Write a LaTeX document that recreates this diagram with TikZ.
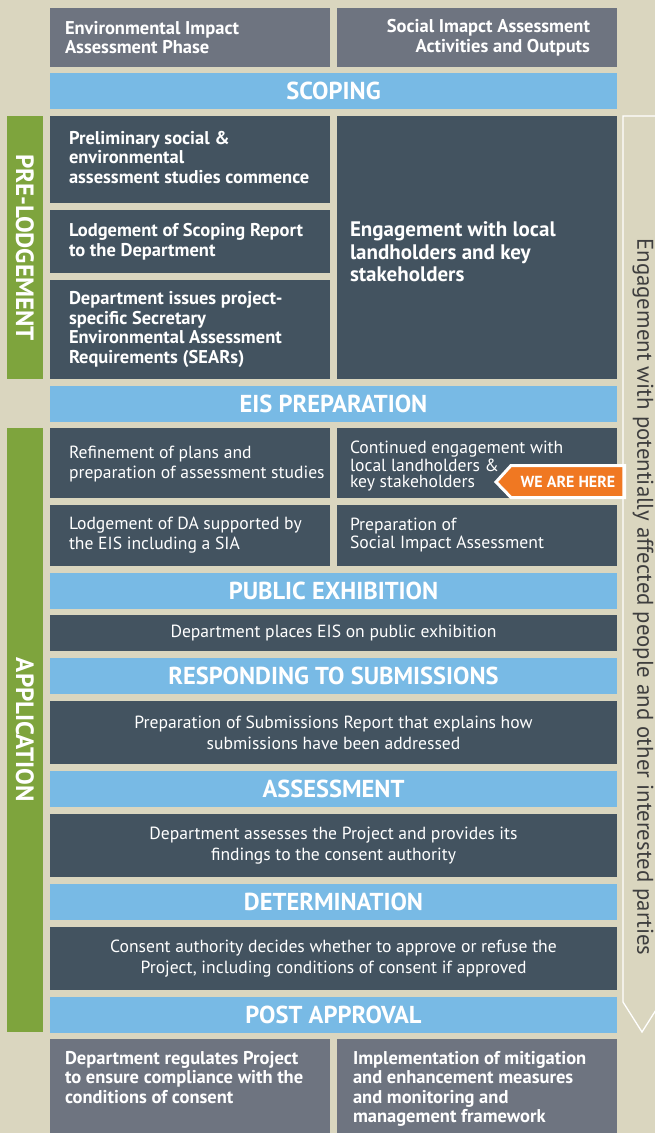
\documentclass[tikz,border=0pt]{standalone}
\usepackage{fontspec}
\setmainfont{PT Sans}
\definecolor{bgc}{HTML}{DAD6BF}
\definecolor{hdrc}{HTML}{6E7480}
\definecolor{bluec}{HTML}{78BAE5}
\definecolor{darkc}{HTML}{435360}
\definecolor{greenc}{HTML}{7EA43D}
\definecolor{orangec}{HTML}{F07822}
\definecolor{vtxt}{HTML}{3E3E3E}
\begin{document}
\begin{tikzpicture}[x=1pt,y=-1pt,
  every node/.style={inner sep=0pt,outer sep=0pt},
  cell/.style={anchor=north west,draw=none},
  hdrbox/.style={cell,fill=hdrc},
  bar/.style={cell,fill=bluec,minimum width=567pt,minimum height=36pt,text=white,
    font=\fontsize{24.5}{28}\selectfont\bfseries},
  darkbox/.style={cell,fill=darkc},
  greenbox/.style={cell,fill=greenc,minimum width=36pt},
  ltxt/.style={anchor=west,text=white,align=left,font=\fontsize{17.6}{20}\selectfont},
  btxt/.style={ltxt,font=\fontsize{18.5}{19.5}\selectfont\bfseries},
  ctxt/.style={text=white,align=center,font=\fontsize{17.6}{21}\selectfont},
  vlabel/.style={text=white,rotate=-90,font=\fontsize{25}{28}\selectfont\bfseries}
]
\useasboundingbox (0,0) rectangle (655,1133);
\clip (0,0) rectangle (655,1133);
\fill[bgc] (0,0) rectangle (655,1133);

% header
\node[hdrbox,minimum width=280pt,minimum height=59pt] (hL) at (50,8) {};
\node[hdrbox,minimum width=280pt,minimum height=59pt] (hR) at (337,8) {};
\node[btxt] (hLt) at ([xshift=15pt]hL.west) {Environmental Impact\\Assessment Phase};
\node[btxt,anchor=east,align=right] (hRt) at ([xshift=-27pt]hR.east) {Social Imapct Assessment\\Activities and Outputs};

% scoping
\node[bar] (scop) at (50,73) {SCOPING};

% pre-lodgement
\node[greenbox,minimum height=263pt] (gpre) at (7,116) {};
\node[vlabel] (gpret) at (gpre.center) {PRE-LODGEMENT};
\node[darkbox,minimum width=280pt,minimum height=87pt] (p1) at (50,116) {};
\node[darkbox,minimum width=280pt,minimum height=63pt] (p2) at (50,210) {};
\node[darkbox,minimum width=280pt,minimum height=99pt] (p3) at (50,280) {};
\node[darkbox,minimum width=280pt,minimum height=263pt] (pR) at (337,116) {};
\node[btxt] (p1t) at ([xshift=19pt,yshift=2pt]p1.west) {Preliminary social \&\\environmental\\assessment studies commence};
\node[btxt] (p2t) at ([xshift=19pt]p2.west) {Lodgement of Scoping Report\\to the Department};
\node[btxt] (p3t) at ([xshift=19pt]p3.west) {Department issues project-\\specific Secretary\\Environmental Assessment\\Requirements (SEARs)};
\node[ltxt,anchor=north west,font=\fontsize{21}{22.5}\selectfont\bfseries] (pRt) at (350,222) {Engagement with local\\landholders and key\\stakeholders};

% EIS preparation
\node[bar] (eis) at (50,386) {EIS PREPARATION};

% application
\node[greenbox,minimum height=604pt] (gapp) at (7,428) {};
\node[vlabel] (gappt) at (gapp.center) {APPLICATION};
\node[darkbox,minimum width=280pt,minimum height=70pt] (a1) at (50,428) {};
\node[darkbox,minimum width=280pt,minimum height=61pt] (a2) at (50,505) {};
\node[darkbox,minimum width=280pt,minimum height=70pt] (a3) at (337,428) {};
\node[darkbox,minimum width=280pt,minimum height=61pt] (a4) at (337,505) {};
\node[ltxt] (a1t) at ([xshift=19pt,yshift=-1pt]a1.west) {Refinement of plans and\\preparation of assessment studies};
\node[ltxt] (a2t) at ([xshift=19pt]a2.west) {Lodgement of DA supported by\\the EIS including a SIA};
\node[ltxt,font=\fontsize{17.6}{16}\selectfont] (a3t) at ([xshift=13pt,yshift=-3pt]a3.west) {Continued engagement with\\local landholders \&\\key stakeholders};
\node[ltxt,font=\fontsize{17.6}{18}\selectfont] (a4t) at ([xshift=13pt]a4.west) {Preparation of\\Social Impact Assessment};

% WE ARE HERE tag
\coordinate (tagtip) at (496,482);
\filldraw[fill=orangec,draw=white,line width=3pt,line join=miter]
  (tagtip) -- (511,465.5) -- (624.5,465.5) -- (624.5,497.5) -- (511,497.5) -- cycle;
\node[text=white,font=\fontsize{16}{18}\selectfont\bfseries] (tag) at (568,482) {WE ARE HERE};

% public exhibition
\node[bar] (pub) at (50,573) {PUBLIC EXHIBITION};
\node[darkbox,minimum width=567pt,minimum height=36pt] (pubb) at (50,615) {};
\node[ctxt] (pubt) at (pubb.center) {Department places EIS on public exhibition};

\node[bar] (resp) at (50,658) {RESPONDING TO SUBMISSIONS};
\node[darkbox,minimum width=567pt,minimum height=63pt] (respb) at (50,701) {};
\node[ctxt] (respt) at (respb.center) {Preparation of Submissions Report that explains how\\submissions have been addressed};

\node[bar] (ass) at (50,771) {ASSESSMENT};
\node[darkbox,minimum width=567pt,minimum height=63pt] (assb) at (50,814) {};
\node[ctxt] (asst) at (assb.center) {Department assesses the Project and provides its\\findings to the consent authority};

\node[bar] (det) at (50,884) {DETERMINATION};
\node[darkbox,minimum width=567pt,minimum height=63pt] (detb) at (50,927) {};
\node[ctxt] (dett) at (detb.center) {Consent authority decides whether to approve or refuse the\\Project, including conditions of consent if approved};

\node[bar] (post) at (50,997) {POST APPROVAL};
\node[hdrbox,minimum width=280pt,minimum height=100pt] (bL) at (50,1039) {};
\node[hdrbox,minimum width=280pt,minimum height=100pt] (bR) at (337,1039) {};
\node[btxt,anchor=north west] (bLt) at (65,1051) {Department regulates Project\\to ensure compliance with the\\conditions of consent};
\node[btxt,anchor=north west] (bRt) at (353,1051) {Implementation of mitigation\\and enhancement measures\\and monitoring and\\management framework};

% side arrow
\draw[white,line width=1.3pt,line join=miter]
  (662,116) -- (623,116) -- (623,1002) -- (642,1032) -- (661,1002) -- (661,116);
\node[rotate=-90,text=vtxt,font=\fontsize{22.8}{26}\selectfont] (side) at (643,597)
  {Engagement with potentially affected people and other interested parties};
\end{tikzpicture}
\end{document}
